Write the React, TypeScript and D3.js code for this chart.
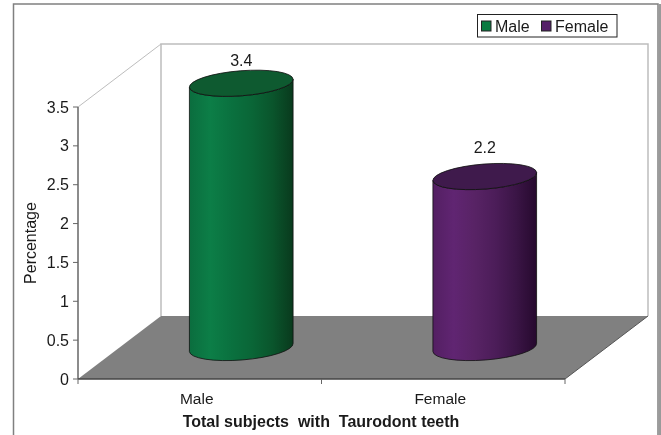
import React from "react";
import * as d3 from "d3";

const categories = ["Male", "Female"];
const values = [3.4, 2.2];
const yTicks = [0, 0.5, 1, 1.5, 2, 2.5, 3, 3.5];
const gradients = [
  ["#0b6d3e", "#0c7e47", "#0a713f", "#0a6637", "#0a552c", "#093a1d"],
  ["#531f62", "#602572", "#582365", "#4c1d59", "#3b1546", "#26092e"],
];
const topFills = ["#0e5a30", "#3f1a4c"];
const legendColors = ["#0a7a40", "#551f68"];
const labelGaps = [17, 24];

const FONT = "'Liberation Sans', Arial, sans-serif";
const W = 661, H = 435;
const y = d3.scaleLinear().domain([0, 3.5]).range([379, 107]);
const x = d3.scaleBand().domain(categories).range([78, 565]);
const DX = 83, DY = -63;
const RX = 52, RY = 12.5, TILT = -4.5;
const TEXT = "#1a1a1a";

function floorPath() {
  const p = d3.path();
  p.moveTo(x.range()[0], y(0));
  p.lineTo(x.range()[1], y(0));
  p.lineTo(x.range()[1] + DX, y(0) + DY);
  p.lineTo(x.range()[0] + DX, y(0) + DY);
  p.closePath();
  return p.toString();
}

function Cylinder({ cat, value, i }: { cat: string; value: number; i: number }) {
  const cx = x(cat)! + x.bandwidth() / 2 + DX / 2;
  const by = y(0) + DY / 2;
  const ty = by - (y(0) - y(value));
  const a = (TILT * Math.PI) / 180;
  const ex = RX * Math.cos(a), ey = RX * Math.sin(a);
  const body = `M${cx - ex},${ty - ey} L${cx - ex},${by - ey} A${RX},${RY} ${TILT} 0 0 ${cx + ex},${by + ey} L${cx + ex},${ty + ey} A${RX},${RY} ${TILT} 0 1 ${cx - ex},${ty - ey} Z`;
  return (
    <g>
      <path d={body} fill={`url(#cyl${i})`} stroke="#111" strokeWidth={0.8} />
      <ellipse cx={0} cy={0} rx={RX} ry={RY} fill={topFills[i]} stroke="#111" strokeWidth={0.8}
        transform={`translate(${cx},${ty}) rotate(${TILT})`} />
      <text x={cx} y={ty - labelGaps[i]} textAnchor="middle" fontSize={16} fill={TEXT}>{value}</text>
    </g>
  );
}

export default function App() {
  return (
    <svg width={W} height={H} viewBox={`0 0 ${W} ${H}`}
      style={{ position: "absolute", left: 0, top: 0, background: "#fff", filter: "blur(0.35px)" }} fontFamily={FONT}>
      <defs>
        {gradients.map((g, i) => (
          <linearGradient key={i} id={`cyl${i}`} x1="0" x2="1" y1="0" y2="0">
            {g.map((c, j) => <stop key={j} offset={j / (g.length - 1)} stopColor={c} />)}
          </linearGradient>
        ))}
      </defs>
      {/* frame */}
      <path d={`M13.5,${H} V4 H658 V${H}`} fill="none" stroke="#808080" strokeWidth={1.5} />
      <rect x={658.5} y={4} width={2.5} height={H} fill="#9a9a9a" />
      {/* back wall */}
      <path d={`M${78 + DX},${y(0) + DY} V${y(3.5) + DY} H${565 + DX} V${y(0) + DY}`} fill="none" stroke="#bdbdbd" strokeWidth={1.5} />
      <line x1={78} y1={y(3.5)} x2={78 + DX} y2={y(3.5) + DY} stroke="#bdbdbd" strokeWidth={1} />
      {/* floor */}
      <path d={floorPath()} fill="#808080" />
      <line x1={565} y1={y(0)} x2={565 + DX} y2={y(0) + DY} stroke="#555" strokeWidth={1} />
      {/* y axis */}
      <line x1={78} y1={y(3.5)} x2={78} y2={y(0)} stroke="#666" strokeWidth={1.5} />
      {yTicks.map((t) => (
        <g key={t}>
          <line x1={73} x2={78} y1={y(t)} y2={y(t)} stroke="#666" />
          <text x={69} y={y(t) + 5.5} textAnchor="end" fontSize={16} fill={TEXT}>{t}</text>
        </g>
      ))}
      {/* x axis */}
      <line x1={78} x2={565} y1={y(0)} y2={y(0)} stroke="#444" strokeWidth={1.5} />
      {[...categories.map((c) => x(c)!), x.range()[1]].map((t) => (
        <line key={t} x1={t} x2={t} y1={y(0)} y2={y(0) + 5} stroke="#666" />
      ))}
      {categories.map((c) => (
        <text key={c} x={x(c)! + x.bandwidth() / 2 - 3} y={404} textAnchor="middle" fontSize={15.5} fill={TEXT}>{c}</text>
      ))}
      {categories.map((c, i) => <Cylinder key={c} cat={c} value={values[i]} i={i} />)}
      {/* titles */}
      <text transform="translate(36,243) rotate(-90)" textAnchor="middle" fontSize={16} fill={TEXT}>Percentage</text>
      <text x={321} y={427} textAnchor="middle" fontSize={16} fontWeight="bold" fill={TEXT} xmlSpace="preserve">Total subjects  with  Taurodont teeth</text>
      {/* legend */}
      <rect x={477.5} y={14.5} width={139.5} height={22.5} fill="#fff" stroke="#222" strokeWidth={1} />
      {categories.map((c, i) => (
        <g key={c}>
          <rect x={[482, 542][i] - 0.5} y={21} width={9.5} height={10} fill={legendColors[i]} stroke="#222" strokeWidth={1} />
          <text x={[495, 555][i]} y={31.5} fontSize={16} fill={TEXT}>{c}</text>
        </g>
      ))}
    </svg>
  );
}
